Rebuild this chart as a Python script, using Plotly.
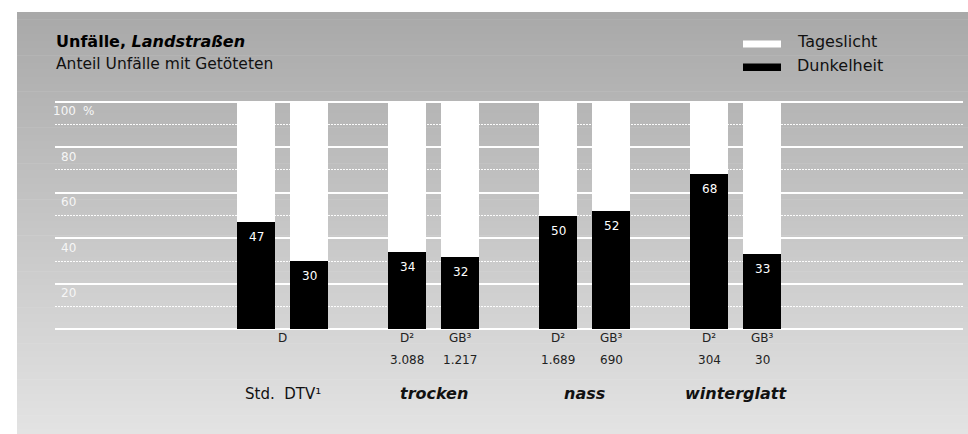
import plotly.graph_objects as go

# ---------------- data ----------------
group_labels = ["Std.  DTV¹", "trocken", "nass", "winterglatt"]
group_bold = [False, True, True, True]
bar_groups = [0, 0, 1, 1, 2, 2, 3, 3]
bar_member = [0, 1, 0, 1, 0, 1, 0, 1]
dark_values = [47, 30, 34, 32, 50, 52, 68, 33]          # Dunkelheit (%)
light_values = [100 - v for v in dark_values]             # Tageslicht (%)
country_labels = [None, None, "D²", "GB³", "D²", "GB³", "D²", "GB³"]
count_labels = [None, None, "3.088", "1.217", "1.689", "690", "304", "30"]
tick_values = [100, 80, 60, 40, 20]
tick_labels = ["100", "80", "60", "40", "20"]

# --------------- layout helpers ---------------
W, H = 968, 434
ML, MR, MT, MB = 55, 5, 97, 100
PW, PH = W - ML - MR, H - MT - MB
UNIT = 53.0                 # px per x unit
GROUP_STRIDE = 151 / UNIT   # group spacing in x units
x_left = -(256 - ML) / UNIT
x_range = [x_left, x_left + PW / UNIT]
y_range = [-2, 102]

xpos = [g * GROUP_STRIDE + m for g, m in zip(bar_groups, bar_member)]

FONT = "DejaVu Sans"

def py2paper(py):
    return (H - MB - py) / PH

def px2paper(px):
    return (px - ML) / PW

fig = go.Figure()
fig.add_trace(go.Bar(x=xpos, y=dark_values, name="Dunkelheit",
                     marker=dict(color="black", line=dict(width=0)), width=38 / UNIT))
fig.add_trace(go.Bar(x=xpos, y=light_values, name="Tageslicht",
                     marker=dict(color="white", line=dict(width=0)), width=38 / UNIT))

shapes = []
# gradient background panel
top_px, bot_px, left_px = 12, H + 10, 17
N = 60
c0, c1 = 168, 229
for i in range(N):
    y0 = top_px + (bot_px - top_px) * i / N
    y1 = top_px + (bot_px - top_px) * (i + 1) / N + 0.6
    c = int(round(c0 + (c1 - c0) * (i + 0.5) / N))
    shapes.append(dict(type="rect", xref="paper", yref="paper", layer="below",
                       x0=px2paper(left_px), x1=px2paper(W + 5),
                       y0=py2paper(y1), y1=py2paper(y0),
                       fillcolor=f"rgb({c},{c},{c})", line=dict(width=0)))
# legend swatches
shapes.append(dict(type="rect", xref="paper", yref="paper",
                   x0=px2paper(743), x1=px2paper(781), y0=py2paper(47.5), y1=py2paper(40.5),
                   fillcolor="white", line=dict(width=0)))
shapes.append(dict(type="rect", xref="paper", yref="paper",
                   x0=px2paper(743), x1=px2paper(781), y0=py2paper(71), y1=py2paper(63.5),
                   fillcolor="black", line=dict(width=0)))

ann = []
# title
ann.append(dict(xref="paper", yref="paper", x=px2paper(54), y=py2paper(42), xanchor="left", yanchor="middle",
                text="<b>Unfälle, <i>Landstraßen</i></b>", showarrow=False,
                font=dict(family=FONT, size=16, color="black")))
ann.append(dict(xref="paper", yref="paper", x=px2paper(54), y=py2paper(63.5), xanchor="left", yanchor="middle",
                text="Anteil Unfälle mit Getöteten", showarrow=False,
                font=dict(family=FONT, size=15.5, color="#111")))
# legend texts
ann.append(dict(xref="paper", yref="paper", x=px2paper(795), y=py2paper(42), xanchor="left", yanchor="middle",
                text="Tageslicht", showarrow=False, font=dict(family=FONT, size=16, color="#111")))
ann.append(dict(xref="paper", yref="paper", x=px2paper(795), y=py2paper(65), xanchor="left", yanchor="middle",
                text="Dunkelheit", showarrow=False, font=dict(family=FONT, size=16, color="#111")))
# y tick labels
for v, t in zip(tick_values, tick_labels):
    ann.append(dict(xref="paper", yref="y", x=px2paper(78), y=v, xanchor="right", yanchor="middle",
                    yshift=-9.5, text=t, showarrow=False, font=dict(family=FONT, size=12, color="#f6f6f6")))
ann.append(dict(xref="paper", yref="y", x=px2paper(81), y=100, xanchor="left", yanchor="middle",
                yshift=-9.5, text="%", showarrow=False, font=dict(family=FONT, size=12, color="#f6f6f6")))
# bar value labels
for x, v in zip(xpos, dark_values):
    ann.append(dict(x=x, y=v, xref="x", yref="y", yanchor="top", yshift=-6, text=str(v), showarrow=False,
                    font=dict(family=FONT, size=12, color="white")))
# country / count labels (paper y so they are drawn below the axis)
ROW1, ROW2, ROW3 = py2paper(347), py2paper(369), py2paper(405)
ann.append(dict(x=(xpos[0] + xpos[1]) / 2, y=ROW1, xref="x", yref="paper", text="D", showarrow=False,
                font=dict(family=FONT, size=12, color="#222")))
for x, c, n in zip(xpos, country_labels, count_labels):
    if c:
        ann.append(dict(x=x, y=ROW1, xref="x", yref="paper", text=c, showarrow=False,
                        font=dict(family=FONT, size=12, color="#222")))
    if n:
        ann.append(dict(x=x, y=ROW2, xref="x", yref="paper", text=n, showarrow=False,
                        font=dict(family=FONT, size=12, color="#222")))
for g, (lbl, b) in enumerate(zip(group_labels, group_bold)):
    xs = [x for x, gg in zip(xpos, bar_groups) if gg == g]
    txt = f"<b><i>{lbl}</i></b>" if b else lbl
    ann.append(dict(x=sum(xs) / len(xs), y=ROW3, xref="x", yref="paper", text=txt, showarrow=False,
                    font=dict(family=FONT, size=16 if b else 15, color="#111")))

fig.update_layout(
    width=W, height=H,
    margin=dict(l=ML, r=MR, t=MT, b=MB, pad=0),
    paper_bgcolor="white", plot_bgcolor="rgba(0,0,0,0)",
    barmode="stack", showlegend=False,
    shapes=shapes, annotations=ann,
    xaxis=dict(range=x_range, showgrid=False, zeroline=False, showticklabels=False, ticks="", fixedrange=True),
    yaxis=dict(range=y_range, tick0=0, dtick=20, showgrid=True, gridcolor="white", gridwidth=1.6,
               zeroline=False, showticklabels=False, ticks="", fixedrange=True,
               minor=dict(dtick=10, tick0=0, showgrid=True, gridcolor="rgba(255,255,255,0.95)",
                          gridwidth=1, griddash="1.5px,1.5px")),
)

fig.write_html("out.html", config={"displayModeBar": False},
               post_script="document.body.style.margin='0';document.body.style.overflow='hidden';")
